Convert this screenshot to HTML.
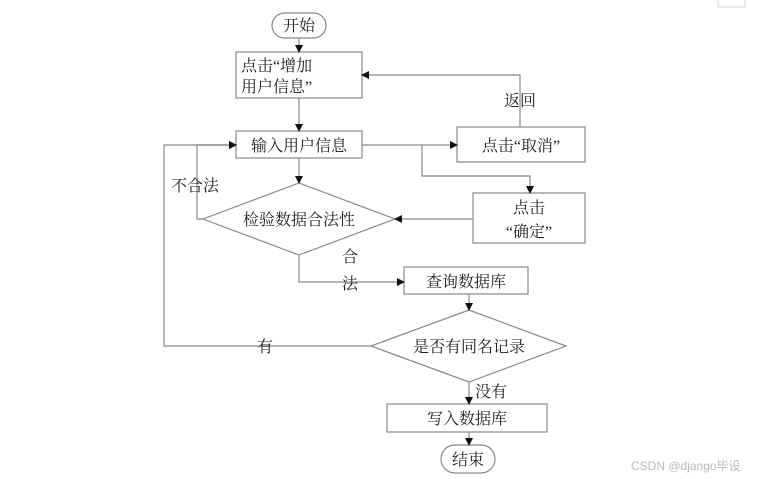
<!DOCTYPE html>
<html><head><meta charset="utf-8"><style>
html,body{margin:0;padding:0;background:#fff;}
svg{display:block;}
text{font-family:"Liberation Serif","Noto Serif CJK SC","Noto Sans CJK SC",serif;font-size:16px;fill:#222;}
</style></head><body>
<svg width="760" height="479" viewBox="0 0 760 479" xmlns="http://www.w3.org/2000/svg">
<defs><marker id="a" markerWidth="8" markerHeight="8" refX="7" refY="4" orient="auto" markerUnits="userSpaceOnUse"><path d="M0,0 L8,4 L0,8 z" fill="#111"/></marker></defs>
<g fill="none" stroke="#888" stroke-width="1.2">
<rect x="272" y="13" width="54" height="25" rx="12.5"/>
<rect x="236" y="52" width="126" height="46"/>
<rect x="236" y="131" width="126" height="27"/>
<rect x="457" y="127" width="128" height="35"/>
<rect x="473" y="193" width="112" height="50"/>
<polygon points="203,219 299,183 395,219 299,255"/>
<rect x="404" y="267" width="124" height="27"/>
<polygon points="371,346 469,310 566,346 469,382"/>
<rect x="387" y="404" width="160" height="28"/>
<rect x="441" y="445" width="54" height="28" rx="14"/>
<path d="M718,0 V7 H745 V0" stroke="#ddd"/>
</g>
<g fill="none" stroke="#888" stroke-width="1.2" marker-end="url(#a)">
<path d="M299,38 V52"/>
<path d="M299,98 V131"/>
<path d="M520,127 V75 H362"/>
<path d="M362,145 H457"/>
<path d="M422,145 V176 H530 V193"/>
<path d="M299,158 V183"/>
<path d="M473,219 H395"/>
<path d="M203,219 H197 V145 H236"/>
<path d="M299,255 V282 H404"/>
<path d="M469,294 V310"/>
<path d="M371,346 H164 V145 H236"/>
<path d="M469,382 V404"/>
<path d="M469,432 V445"/>
</g>
<text x="299" y="31" text-anchor="middle">开始</text>
<text x="241" y="71">点击“增加</text>
<text x="241" y="92">用户信息”</text>
<text x="299" y="151" text-anchor="middle">输入用户信息</text>
<text x="521" y="151" text-anchor="middle">点击“取消”</text>
<text x="520" y="106" text-anchor="middle">返回</text>
<text x="529" y="213" text-anchor="middle">点击</text>
<text x="529" y="237" text-anchor="middle">“确定”</text>
<text x="299" y="225" text-anchor="middle">检验数据合法性</text>
<text x="195" y="191" text-anchor="middle">不合法</text>
<text x="350" y="262" text-anchor="middle">合</text>
<text x="350" y="289" text-anchor="middle">法</text>
<text x="466" y="287" text-anchor="middle">查询数据库</text>
<text x="469" y="352" text-anchor="middle">是否有同名记录</text>
<text x="265" y="352" text-anchor="middle">有</text>
<text x="491" y="397" text-anchor="middle">没有</text>
<text x="467" y="424" text-anchor="middle">写入数据库</text>
<text x="468" y="465" text-anchor="middle">结束</text>
<text x="631" y="470" style="font-family:'Liberation Sans','Noto Sans CJK SC',sans-serif;font-size:12px;fill:#bbb">CSDN @django毕设</text>
</svg>
</body></html>
